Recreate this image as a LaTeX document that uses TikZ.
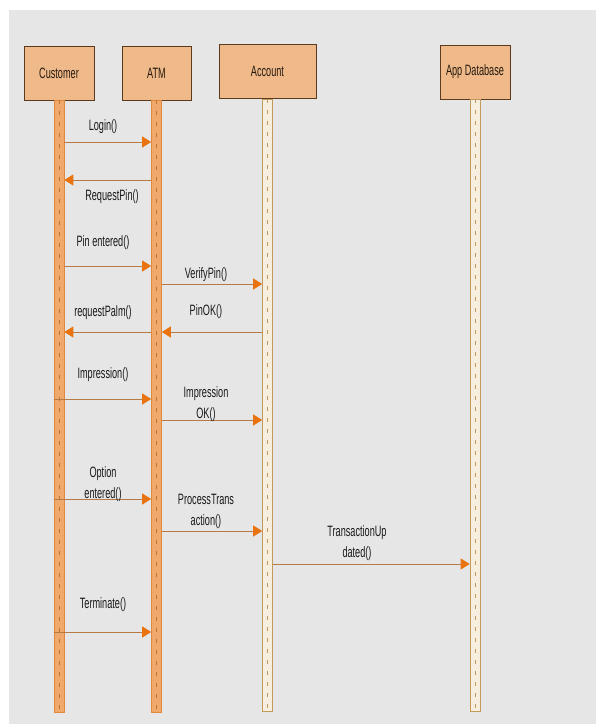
\documentclass[tikz,border=0pt]{standalone}
\usepackage{fontspec}
\setmainfont[FakeStretch=0.61]{Liberation Sans}
\usetikzlibrary{arrows.meta}
\definecolor{bggrey}{HTML}{E6E6E6}
\definecolor{boxfill}{HTML}{EFB98A}
\definecolor{boxline}{HTML}{5C3A1E}
\definecolor{barfill}{HTML}{F0A96C}
\definecolor{barline}{HTML}{E0893A}
\definecolor{pale}{HTML}{F6EEDF}
\definecolor{paleline}{HTML}{C49A5C}
\definecolor{msgline}{HTML}{B97B45}
\definecolor{tipcol}{HTML}{E8730F}
\begin{document}
\begin{tikzpicture}[x=1pt,y=-1pt,>={Triangle[length=9pt,width=11pt,color=tipcol]},
	obj/.style={draw=boxline,fill=boxfill,line width=0.8pt,minimum height=54pt,text=black!80!brown,font=\fontsize{15}{16}\selectfont},
	obar/.style={draw=barline,fill=barfill,minimum width=10pt,minimum height=612pt,anchor=north,inner sep=0pt,line width=0.6pt},
	pbar/.style={obar,draw=paleline,fill=pale},
	msg/.style={->,draw=msgline,line width=0.8pt},
	lbl/.style={font=\fontsize{15}{21}\selectfont,align=center,text=black!90,inner sep=0pt}]
	\useasboundingbox (0,0) rectangle (596,724);
	\fill[bggrey] (9,10) rectangle (596,724);
	% objects
	\node[obj,minimum width=70pt] (cust) at (59,73) {Customer};
	\node[obj,minimum width=69pt] (atm) at (156.5,73) {ATM};
	\node[obj,minimum width=97pt] (acct) at (267.5,71.5) {Account};
	\node[obj,minimum width=70pt] (appdb) at (475,72) {App Database};
	% lifelines
	\node[obar] (custbar) at (cust.south) {};
	\node[obar] (atmbar) at (atm.south) {};
	\node[pbar] (acctbar) at (acct.south) {};
	\node[pbar] (dbbar) at (appdb.south) {};
	\foreach \b/\c in {custbar/barline!85!black,atmbar/barline!85!black,acctbar/paleline,dbbar/paleline}
		\draw[\c,line width=0.7pt,dash pattern=on 4pt off 7pt] (\b.north) -- (\b.south);
	% message levels
	\path (0,142) coordinate (m1) (0,180) coordinate (m2) (0,266) coordinate (m3) (0,284) coordinate (m4)
	(0,332) coordinate (m5) (0,399) coordinate (m6) (0,420) coordinate (m7) (0,499) coordinate (m8)
	(0,531) coordinate (m9) (0,564) coordinate (m10) (0,632) coordinate (m11);
	\draw[msg] (custbar.east |- m1) -- (atmbar.west |- m1);
	\draw[msg] (atmbar.west |- m2) -- (custbar.east |- m2);
	\draw[msg] (custbar.east |- m3) -- (atmbar.west |- m3);
	\draw[msg] (atmbar.east |- m4) -- (acctbar.west |- m4);
	\draw[msg] (atmbar.west |- m5) -- (custbar.east |- m5);
	\draw[msg] (acctbar.west |- m5) -- (atmbar.east |- m5);
	\draw[msg] (custbar.west |- m6) -- (atmbar.west |- m6);
	\draw[msg] (atmbar.east |- m7) -- (acctbar.west |- m7);
	\draw[msg] (custbar.west |- m8) -- (atmbar.west |- m8);
	\draw[msg] (atmbar.east |- m9) -- (acctbar.west |- m9);
	\draw[msg] (acctbar.east |- m10) -- (dbbar.west |- m10);
	\draw[msg] (custbar.west |- m11) -- (atmbar.west |- m11);
	% labels
	\node[lbl] (login) at (103,127) {Login()};
	\node[lbl] (reqpin) at (112,197) {RequestPin()};
	\node[lbl] (pinent) at (103,243) {Pin entered()};
	\node[lbl] (verify) at (206,275) {VerifyPin()};
	\node[lbl] (reqpalm) at (103,313) {requestPalm()};
	\node[lbl] (pinok) at (206,312) {PinOK()};
	\node[lbl] (impr) at (103,375) {Impression()};
	\node[lbl] (improk) at (206,404) {Impression\\OK()};
	\node[lbl] (option) at (103,484) {Option\\entered()};
	\node[lbl] (process) at (206,511) {ProcessTrans\\action()};
	\node[lbl] (update) at (357,543) {TransactionUp\\dated()};
	\node[lbl] (term) at (103,605) {Terminate()};
\end{tikzpicture}
\end{document}
